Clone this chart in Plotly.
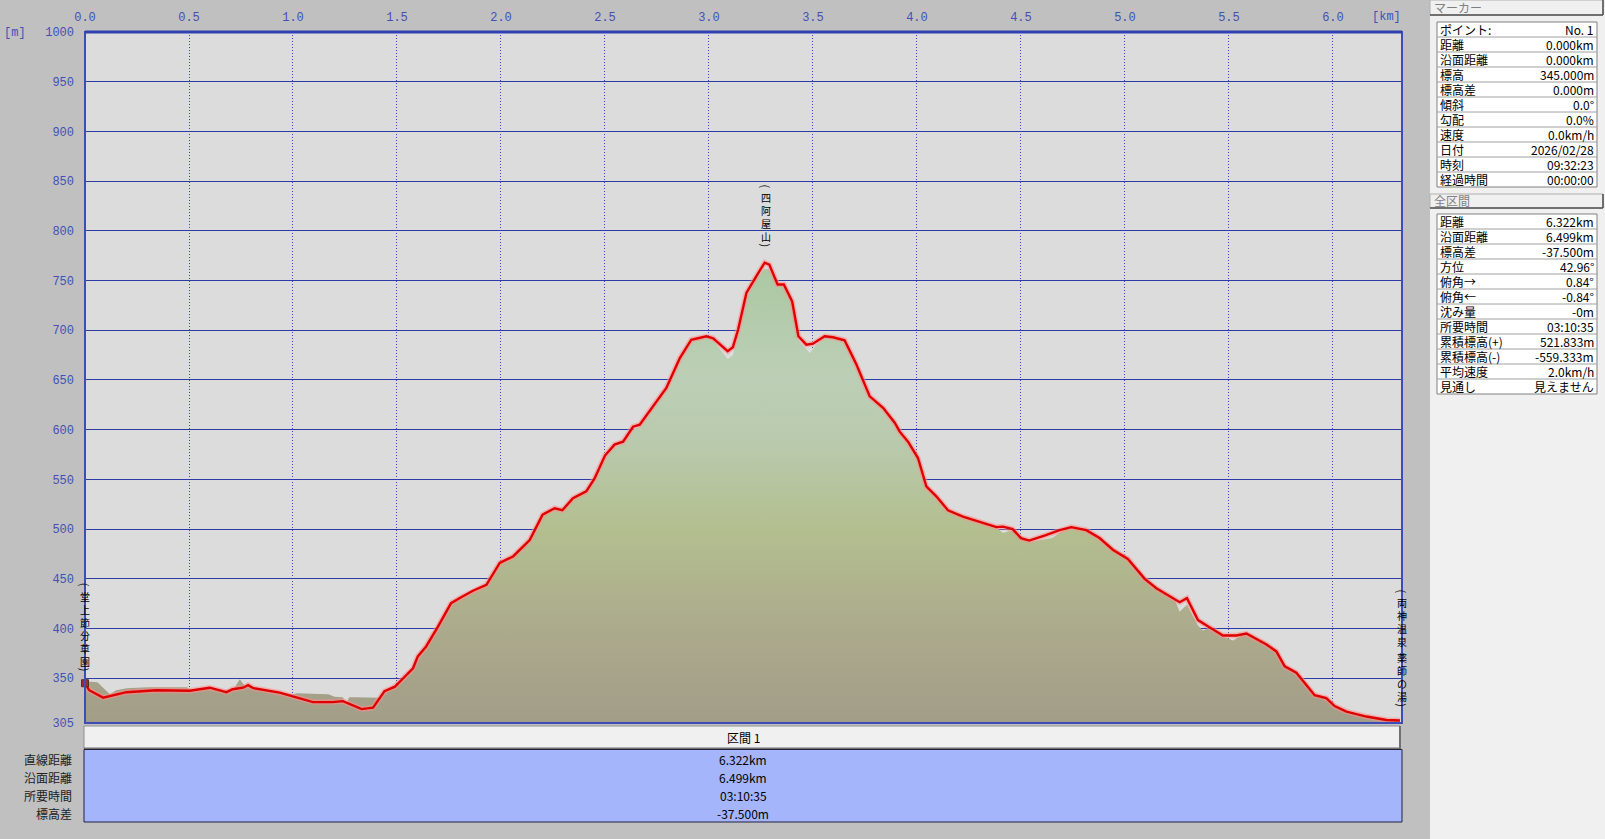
import plotly.graph_objects as go

# ---------------- data ----------------
# GPS track: distance [km] / elevation [m]
track_km = [0.000, 0.020, 0.087, 0.135, 0.200, 0.343, 0.420, 0.503, 0.600, 0.680,
            0.710, 0.760, 0.784, 0.810, 0.936, 1.000, 1.096, 1.190, 1.240, 1.330,
            1.385, 1.440, 1.490, 1.530, 1.577, 1.600, 1.640, 1.697, 1.760, 1.800,
            1.865, 1.930, 1.994, 2.058, 2.138, 2.200, 2.258, 2.295, 2.346, 2.410,
            2.450, 2.500, 2.546, 2.587, 2.635, 2.667, 2.730, 2.795, 2.860, 2.915,
            2.988, 3.020, 3.090, 3.115, 3.140, 3.180, 3.228, 3.268, 3.290, 3.330,
            3.360, 3.400, 3.430, 3.468, 3.500, 3.556, 3.596, 3.652, 3.709, 3.773,
            3.837, 3.893, 3.917, 3.957, 4.005, 4.045, 4.093, 4.149, 4.221, 4.300,
            4.382, 4.413, 4.460, 4.500, 4.540, 4.620, 4.686, 4.742, 4.814, 4.878,
            4.943, 5.014, 5.095, 5.151, 5.263, 5.298, 5.351, 5.400, 5.471, 5.536,
            5.584, 5.680, 5.728, 5.768, 5.824, 5.912, 5.968, 6.008, 6.065, 6.161,
            6.257, 6.322]
track_m = [345.0, 338.0, 330.5, 333.0, 336.0, 338.0, 337.5, 337.5, 340.5, 336.0,
           339.0, 340.5, 343.0, 340.0, 335.5, 332.0, 326.0, 326.0, 327.0, 319.0,
           320.5, 337.0, 341.5, 350.0, 360.0, 372.0, 382.0, 402.0, 425.5, 430.5,
           438.0, 444.0, 466.0, 472.5, 489.0, 514.5, 521.0, 519.0, 531.0, 538.0,
           551.0, 574.0, 585.0, 588.0, 603.0, 605.0, 623.5, 642.0, 672.0, 690.5,
           694.0, 692.0, 679.0, 683.0, 700.5, 737.5, 754.5, 768.0, 766.0, 746.0,
           746.0, 729.0, 694.0, 685.5, 686.5, 694.0, 693.0, 690.0, 665.5, 633.5,
           622.0, 607.0, 598.0, 588.0, 571.5, 543.0, 533.0, 519.0, 512.5, 507.5,
           502.0, 502.5, 500.0, 491.0, 488.5, 494.0, 499.0, 502.0, 499.0, 491.0,
           479.0, 470.0, 450.0, 440.5, 426.5, 430.5, 408.5, 402.0, 393.0, 393.0,
           395.0, 384.0, 377.0, 362.0, 355.5, 333.0, 330.0, 322.0, 316.5, 311.5,
           308.0, 307.5]

# terrain (map) profile: distance [km] / elevation [m]
terrain_km = [0.000, 0.060, 0.090, 0.120, 0.150, 0.200, 0.300, 0.490, 0.520, 0.600,
              0.680, 0.720, 0.744, 0.770, 0.810, 0.936, 1.000, 1.020, 1.170, 1.200,
              1.240, 1.255, 1.270, 1.300, 1.420, 1.440, 1.490, 1.530, 1.577, 1.600,
              1.640, 1.697, 1.760, 1.800, 1.865, 1.930, 1.994, 2.058, 2.138, 2.200,
              2.258, 2.295, 2.346, 2.410, 2.450, 2.500, 2.546, 2.587, 2.635, 2.667,
              2.730, 2.795, 2.860, 2.915, 2.988, 3.020, 3.090, 3.115, 3.140, 3.180,
              3.228, 3.268, 3.290, 3.330, 3.360, 3.400, 3.430, 3.485, 3.510, 3.556,
              3.596, 3.652, 3.709, 3.773, 3.837, 3.893, 3.917, 3.957, 4.005, 4.045,
              4.093, 4.149, 4.221, 4.300, 4.382, 4.413, 4.460, 4.500, 4.540, 4.650,
              4.700, 4.742, 4.814, 4.878, 4.943, 5.014, 5.095, 5.151, 5.240, 5.263,
              5.298, 5.351, 5.375, 5.400, 5.471, 5.520, 5.584, 5.680, 5.728, 5.768,
              5.824, 5.912, 5.968, 6.008, 6.065, 6.161, 6.257, 6.322]
terrain_m = [347.0, 346.0, 340.0, 334.0, 338.0, 340.0, 341.0, 341.0, 337.0, 340.0,
             336.0, 341.0, 349.0, 342.0, 340.0, 336.0, 334.0, 335.0, 334.0, 331.5,
             331.0, 323.0, 331.0, 331.0, 330.5, 337.0, 341.5, 350.0, 361.0, 373.0,
             383.0, 403.0, 426.0, 431.0, 438.5, 444.5, 466.0, 472.5, 489.5, 514.0,
             520.0, 518.0, 530.0, 537.0, 550.0, 572.0, 582.0, 586.0, 600.0, 603.0,
             622.0, 641.0, 670.0, 689.0, 693.0, 690.0, 671.0, 675.0, 697.0, 733.0,
             752.0, 762.0, 761.0, 745.0, 745.0, 728.0, 690.0, 677.0, 684.0, 693.0,
             693.0, 690.0, 665.5, 634.0, 623.0, 608.0, 599.0, 589.0, 572.0, 544.0,
             534.0, 520.0, 513.0, 507.0, 502.0, 496.0, 499.0, 491.0, 487.0, 491.0,
             498.0, 502.0, 500.0, 492.0, 481.0, 472.0, 452.0, 442.0, 429.0, 417.0,
             424.0, 403.0, 398.0, 400.0, 392.0, 388.0, 396.0, 386.0, 378.5, 364.0,
             357.0, 334.0, 331.0, 323.0, 317.0, 312.0, 308.5, 307.5]

x_ticks = [0.0, 0.5, 1.0, 1.5, 2.0, 2.5, 3.0, 3.5, 4.0, 4.5, 5.0, 5.5, 6.0]
x_tick_text = ["0.0", "0.5", "1.0", "1.5", "2.0", "2.5", "3.0", "3.5", "4.0", "4.5", "5.0", "5.5", "6.0"]
y_ticks = [305, 350, 400, 450, 500, 550, 600, 650, 700, 750, 800, 850, 900, 950, 1000]
y_tick_text = ["305", "350", "400", "450", "500", "550", "600", "650", "700", "750", "800", "850", "900", "950", "1000"]

start_name = ["堂", "上", "節", "分", "草", "園"]
peak_name = ["四", "阿", "屋", "山"]
end_name_1 = ["両", "神", "温", "泉"]
end_name_2 = ["薬", "師", "の", "湯"]
peak_km, peak_label_top_m = 3.272, 842
start_label_top_m = 441
end_label_top_m = 434.5
end_label2_top_m = 379.5

marker_labels = ["ポイント:", "距離", "沿面距離", "標高", "標高差", "傾斜", "勾配", "速度", "日付", "時刻", "経過時間"]
marker_values = ["No. 1", "0.000km", "0.000km", "345.000m", "0.000m", "0.0°", "0.0%", "0.0km/h", "2026/02/28", "09:32:23", "00:00:00"]
total_labels = ["距離", "沿面距離", "標高差", "方位", "俯角→", "俯角←", "沈み量", "所要時間", "累積標高(+)", "累積標高(-)", "平均速度", "見通し"]
total_values = ["6.322km", "6.499km", "-37.500m", "42.96°", "0.84°", "-0.84°", "-0m", "03:10:35", "521.833m", "-559.333m", "2.0km/h", "見えません"]
section_title = "区間 1"
section_labels = ["直線距離", "沿面距離", "所要時間", "標高差"]
section_values = ["6.322km", "6.499km", "03:10:35", "-37.500m"]

# ---------------- layout helpers ----------------
FW, FH = 1605, 839
L, T, R, B = 85, 32, 1402, 723
W, H = R - L, B - T


def px(x):
    return (x - L) / W


def py(y):
    return (B - y) / H


JP = "Noto Sans CJK JP"
MONO = "Liberation Mono"
AX_BLUE = "#4050b8"
LBL = 10            # font size of vertical place names
LH = LBL * 1.3      # plotly line height

fig = go.Figure()

# terrain fill with vertical gradient
fig.add_trace(go.Scatter(
    x=terrain_km, y=terrain_m, mode="lines", line=dict(width=0, color="rgba(0,0,0,0)"),
    fill="tozeroy",
    fillgradient=dict(type="vertical", start=305, stop=770,
                      colorscale=[[0.0, "#a29d88"], [0.2, "#acaa8c"], [0.42, "#b3bf8f"],
                                  [0.6, "#b9c9ac"], [0.75, "#bccfb6"], [1.0, "#aac7a1"]]),
    hoverinfo="skip", showlegend=False))

# track halo + track
fig.add_trace(go.Scatter(x=track_km, y=track_m, mode="lines",
                         line=dict(color="rgba(255,140,140,0.55)", width=5.5),
                         hoverinfo="skip", showlegend=False))
fig.add_trace(go.Scatter(x=track_km, y=track_m, mode="lines",
                         line=dict(color="#e00000", width=2.4),
                         showlegend=False))
# start marker
fig.add_trace(go.Scatter(x=[track_km[0]], y=[track_m[0]], mode="markers",
                         marker=dict(symbol="square", size=7, color="#a02838",
                                     line=dict(color="#503020", width=1)),
                         showlegend=False, cliponaxis=False))

shapes = []
annotations = []

# right info panel background
shapes.append(dict(type="rect", xref="paper", yref="paper", x0=px(1430), x1=px(FW + 5),
                   y0=py(FH + 5), y1=py(-5), fillcolor="#f0f0f0", line=dict(width=0), layer="below"))

# plot border
shapes.append(dict(type="rect", xref="paper", yref="paper", x0=0, x1=1, y0=0, y1=1,
                   line=dict(color="#3c4cb8", width=2)))
shapes.append(dict(type="line", xref="paper", yref="paper", x0=0, x1=1, y0=1, y1=1,
                   line=dict(color="#3040b0", width=3)))


def panel(header, hy0, hy1, ty0, row_h, labels, values):
    # header button
    shapes.append(dict(type="rect", xref="paper", yref="paper", x0=px(1430), x1=px(1603),
                       y0=py(hy1), y1=py(hy0), fillcolor="#f0f0f0", line=dict(color="#b0b0b0", width=1)))
    shapes.append(dict(type="line", xref="paper", yref="paper", x0=px(1603), x1=px(1603),
                       y0=py(hy1), y1=py(hy0), line=dict(color="#505050", width=1.5)))
    shapes.append(dict(type="line", xref="paper", yref="paper", x0=px(1430), x1=px(1603),
                       y0=py(hy1), y1=py(hy1), line=dict(color="#505050", width=1.5)))
    annotations.append(dict(xref="paper", yref="paper", x=px(1432), y=py((hy0 + hy1) / 2),
                            xanchor="left", yanchor="middle", text=header, showarrow=False,
                            font=dict(family=JP, size=12, color="#808080")))
    n = len(labels)
    ty1 = ty0 + n * row_h
    shapes.append(dict(type="rect", xref="paper", yref="paper", x0=px(1437), x1=px(1597),
                       y0=py(ty1), y1=py(ty0), fillcolor="#ffffff", line=dict(color="#808080", width=1)))
    for i in range(1, n):
        yy = ty0 + i * row_h
        shapes.append(dict(type="line", xref="paper", yref="paper", x0=px(1437), x1=px(1597),
                           y0=py(yy), y1=py(yy), line=dict(color="#a0a0a0", width=1)))
    for i, (lab, val) in enumerate(zip(labels, values)):
        yc = ty0 + (i + 0.5) * row_h
        annotations.append(dict(xref="paper", yref="paper", x=px(1438), y=py(yc), xanchor="left",
                                yanchor="middle", text=lab, showarrow=False,
                                font=dict(family=JP, size=12, color="#000000")))
        annotations.append(dict(xref="paper", yref="paper", x=px(1596), y=py(yc), xanchor="right",
                                yanchor="middle", text=val, showarrow=False,
                                font=dict(family=JP, size=12, color="#000000")))


panel("マーカー", 0, 15, 22, 15, marker_labels, marker_values)
panel("全区間", 194, 208, 214, 15, total_labels, total_values)

# bottom section table
shapes.append(dict(type="rect", xref="paper", yref="paper", x0=px(84), x1=px(1400),
                   y0=py(749), y1=py(726), fillcolor="#f0f0f0", line=dict(color="#909090", width=1)))
shapes.append(dict(type="line", xref="paper", yref="paper", x0=px(84), x1=px(1400),
                   y0=py(748.5), y1=py(748.5), line=dict(color="#707070", width=2)))
shapes.append(dict(type="line", xref="paper", yref="paper", x0=px(1400), x1=px(1400),
                   y0=py(749), y1=py(726), line=dict(color="#707070", width=2)))
shapes.append(dict(type="rect", xref="paper", yref="paper", x0=px(84), x1=px(1402),
                   y0=py(822), y1=py(749.5), fillcolor="#a4b5fc", line=dict(color="#202040", width=1)))
annotations.append(dict(xref="paper", yref="paper", x=px(743), y=py(737.5), xanchor="center",
                        yanchor="middle", text=section_title, showarrow=False,
                        font=dict(family=JP, size=12, color="#000000")))
for i, (lab, val) in enumerate(zip(section_labels, section_values)):
    yc = 759 + i * 18
    annotations.append(dict(xref="paper", yref="paper", x=px(74), y=py(yc), xanchor="right",
                            yanchor="middle", text=lab, showarrow=False,
                            font=dict(family=JP, size=12, color="#202020")))
    annotations.append(dict(xref="paper", yref="paper", x=px(743), y=py(yc), xanchor="center",
                            yanchor="middle", text=val, showarrow=False,
                            font=dict(family=JP, size=12, color="#000000")))

# unit labels
annotations.append(dict(xref="paper", yref="paper", x=px(2), y=py(33), xanchor="left", yanchor="middle",
                        text="[m]", showarrow=False, font=dict(family=MONO, size=12, color=AX_BLUE)))
annotations.append(dict(xref="paper", yref="paper", x=px(1370), y=py(17), xanchor="left", yanchor="middle",
                        text="[km]", showarrow=False, font=dict(family=MONO, size=12, color=AX_BLUE)))


# vertical place-name labels; parentheses drawn as rotated "(" / ")" (vertical form)
def vlabel(x, top_m, chars, open_paren=True, close_paren=True):
    n = len(chars)
    annotations.append(dict(x=x, y=top_m, xref="x", yref="y", xanchor="center", yanchor="top",
                            text="<br>".join(chars), showarrow=False, borderpad=0,
                            font=dict(family=JP, size=LBL, color="#000000")))
    if open_paren:
        annotations.append(dict(x=x, y=top_m, xref="x", yref="y", xanchor="center", yanchor="bottom",
                                text="(", textangle=90, showarrow=False, borderpad=0, yshift=0,
                                font=dict(family=JP, size=11, color="#000000")))
    if close_paren:
        annotations.append(dict(x=x, y=top_m, xref="x", yref="y", xanchor="center", yanchor="top",
                                text=")", textangle=90, showarrow=False, borderpad=0,
                                yshift=-(n * LH) - 1,
                                font=dict(family=JP, size=11, color="#000000")))


vlabel(0.0, start_label_top_m, start_name)
vlabel(peak_km, peak_label_top_m, peak_name)
vlabel(6.331, end_label_top_m, end_name_1, True, False)
vlabel(6.331, end_label2_top_m, end_name_2, False, True)

fig.update_layout(
    width=FW, height=FH,
    margin=dict(l=L, r=FW - R, t=T, b=FH - B, pad=0),
    paper_bgcolor="#c0c0c0", plot_bgcolor="#dcdcdc",
    showlegend=False,
    shapes=shapes, annotations=annotations,
    xaxis=dict(range=[0, 6.332], side="top", tickvals=x_ticks, ticktext=x_tick_text,
               showgrid=True, gridcolor="#3848b8", gridwidth=1, griddash="1px,2px",
               zeroline=False, showline=False, ticks="", ticklabelstandoff=8,
               tickfont=dict(family=MONO, size=12, color=AX_BLUE), fixedrange=True),
    yaxis=dict(range=[305, 1000], tickvals=y_ticks, ticktext=y_tick_text,
               showgrid=True, gridcolor="#2c3ca4", gridwidth=1,
               zeroline=False, showline=False, ticks="", ticklabelstandoff=10,
               tickfont=dict(family=MONO, size=12, color=AX_BLUE), fixedrange=True),
)

fig.write_html("out.html",
               config={"displayModeBar": False},
               post_script="document.body.style.margin='0px';"
                           "document.body.style.background='#c0c0c0';"
                           "document.documentElement.style.overflow='hidden';")
